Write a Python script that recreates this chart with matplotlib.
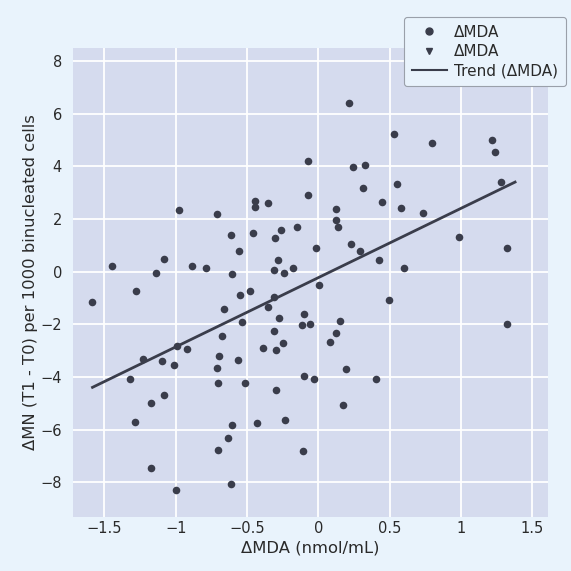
import matplotlib
matplotlib.use("Agg")
import matplotlib.pyplot as plt
from matplotlib.lines import Line2D
import numpy as np

# Data
mda_x = [-1.448, -1.14, -1.08, -0.977, -0.884, -0.786, -0.713, -0.613, -0.608, -0.557,
         -0.459, -0.445, -0.447, -0.352, -0.305, -0.284, -0.312, -0.26, -0.242, -0.179,
         -0.148, -0.074, -0.076, -0.015,
         0.214, 0.531, 0.795, 1.213, 1.234, 0.239, 0.328, 0.314, 0.547, 0.445,
         0.575, 0.734, 1.276, 0.12, 0.12, 0.134, 0.225, 0.29, 0.421, 0.599, 0.984, 1.318,
         -1.584, -1.278, -0.547, -0.48, -0.664, -0.538, -0.312, -0.356, -0.277, -0.312,
         -0.298, -0.246, -0.391, -0.678, -0.562, -0.695, -0.709, -0.704, -0.513, -0.296,
         -0.993, -0.919, -1.229, -1.096, -1.014, -1.32, -1.084, -1.171, -1.285, -0.606,
         -0.632, -0.704, -0.428, -0.237, -1.171, -1.0, -0.613, -0.106, -0.102, -0.032,
         -0.099, -0.113, -0.062, 0.006,
         0.494, 0.151, 0.125, 0.078, 1.32, 0.193, 0.405, 0.174]
mn_y = [0.22, -0.04, 0.48, 2.34, 0.23, 0.13, 2.19, 1.39, -0.09, 0.77,
        1.46, 2.68, 2.44, 2.61, 1.29, 0.43, 0.05, 1.58, -0.04, 0.14,
        1.71, 4.21, 2.91, 0.89,
        6.39, 5.21, 4.87, 5.0, 4.55, 3.96, 4.04, 3.19, 3.32, 2.63,
        2.43, 2.24, 3.39, 2.38, 1.96, 1.71, 1.04, 0.79, 0.46, 0.14, 1.32, 0.91,
        -1.16, -0.74, -0.90, -0.73, -1.43, -1.90, -0.97, -1.33, -1.74, -2.24,
        -2.96, -2.72, -2.91, -2.44, -3.34, -3.19, -3.65, -4.22, -4.24, -4.48,
        -2.81, -2.93, -3.32, -3.40, -3.54, -4.06, -4.68, -4.98, -5.69, -5.82,
        -6.30, -6.78, -5.75, -5.63, -7.46, -8.28, -8.07, -6.82, -3.97, -4.07,
        -1.61, -2.01, -1.97, -0.52,
        -1.06, -1.88, -2.34, -2.66, -1.98, -3.70, -4.06, -5.07]

trend_x = [-1.584, 1.378]
trend_slope = 2.63
trend_intercept = -0.224

x_ticks = [-1.5, -1, -0.5, 0, 0.5, 1, 1.5]
x_tick_labels = ["\u22121.5", "\u22121", "\u22120.5", "0", "0.5", "1", "1.5"]
y_ticks = [-8, -6, -4, -2, 0, 2, 4, 6, 8]
y_tick_labels = ["\u22128", "\u22126", "\u22124", "\u22122", "0", "2", "4", "6", "8"]

fig_bg = "#e9f3fc"
ax_bg = "#d5dbee"
mark_col = "#3a3d4b"
text_col = "#2a2a2a"

fig = plt.figure(figsize=(5.71, 5.71), dpi=100, facecolor=fig_bg)
ax = fig.add_axes([0.128, 0.0946, 0.832, 0.8214])
ax.set_facecolor(ax_bg)

ax.set_xlim(-1.72, 1.61)
ax.set_ylim(-9.31, 8.49)
ax.set_xticks(x_ticks)
ax.set_xticklabels(x_tick_labels)
ax.set_yticks(y_ticks)
ax.set_yticklabels(y_tick_labels)
ax.grid(True, color="white", linewidth=1.3)
ax.set_axisbelow(True)
for s in ax.spines.values():
    s.set_visible(False)
ax.tick_params(axis="x", length=0, labelsize=10.5, colors=text_col, pad=3)
ax.tick_params(axis="y", length=0, labelsize=10.5, colors=text_col, pad=8)

ax.scatter(mda_x, mn_y, s=30, color=mark_col, zorder=3, linewidths=0)
tx = np.array(trend_x)
ax.plot(tx, trend_slope * tx + trend_intercept, color=mark_col, linewidth=2, zorder=2)

ax.set_xlabel("\u0394MDA (nmol/mL)", fontsize=11.8, color=text_col, labelpad=3)
ax.set_ylabel("\u0394MN (T1 - T0) per 1000 binucleated cells", fontsize=11.8,
              color=text_col, labelpad=1.5)

handles = [
    Line2D([], [], marker="o", linestyle="none", color=mark_col, markersize=5),
    Line2D([], [], marker="v", linestyle="none", color=mark_col, markersize=5),
    Line2D([], [], color=mark_col, linewidth=1.5),
]
labels = ["\u0394MDA", "\u0394MDA", "Trend (\u0394MDA)"]
leg = fig.legend(handles, labels, loc="upper right",
                 bbox_to_anchor=(566 / 571, 1 - 17 / 571), borderaxespad=0,
                 fontsize=11, frameon=True, fancybox=True, framealpha=1,
                 handlelength=2.3, handletextpad=0.5, labelspacing=0.3,
                 borderpad=0.5)
leg.get_frame().set_facecolor(fig_bg)
leg.get_frame().set_edgecolor("#9aa0aa")
leg.get_frame().set_linewidth(0.8)
for t in leg.get_texts():
    t.set_color(text_col)

fig.savefig("out.png", dpi=100, facecolor=fig_bg)
